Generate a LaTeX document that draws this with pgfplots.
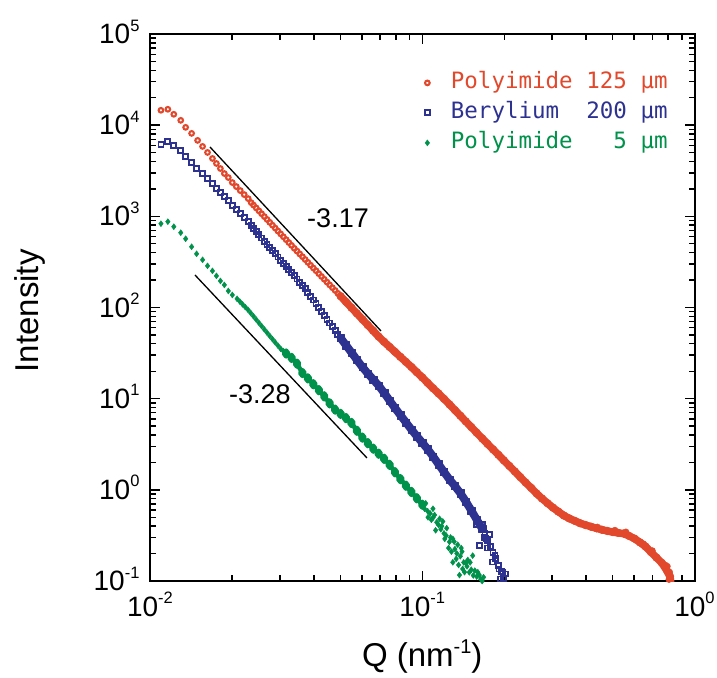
\documentclass[border=0pt]{standalone}
\usepackage{fontspec}
\setmainfont{Liberation Sans}
\newfontfamily\legfont{DejaVu Sans Mono}
\usepackage{pgfplots}
\pgfplotsset{compat=1.18}
\usetikzlibrary{calc}
\definecolor{cred}{RGB}{226,72,44}
\definecolor{cblue}{RGB}{45,50,145}
\definecolor{cgreen}{RGB}{0,145,75}
\newcommand{\sps}[1]{\raisebox{0.45em}[0pt][0pt]{\fontsize{16.5}{16.5}\selectfont #1}}
\begin{document}
\begin{tikzpicture}
\begin{axis}[
  name=ax,
  xmode=log, ymode=log,
  scale only axis, width=544.5pt, height=547pt,
  xmin=0.01, xmax=1, ymin=0.1, ymax=100000,
  xtick={0.01,0.1,1},
  xticklabels={10\sps{-2},10\sps{-1},10\sps{0}},
  ytick={0.1,1,10,100,1000,10000,100000},
  yticklabels={10\sps{-1},10\sps{0},10\sps{1},10\sps{2},10\sps{3},10\sps{4},10\sps{5}},
  tick align=inside,
  major tick length=10pt, minor tick length=6pt,
  every tick/.style={black,line width=1.4pt},
  axis line style={line width=2pt},
  tick label style={font=\fontsize{28}{30}\selectfont},
  xticklabel style={yshift=-12pt},
  yticklabel style={xshift=-7pt},
  xlabel={Q (nm\raisebox{0.42em}{\fontsize{20}{20}\selectfont -1})},
  ylabel={Intensity},
  label style={font=\fontsize{33}{36}\selectfont},
  xlabel style={at={(axis description cs:0.5,-0.157)},anchor=base},
  ylabel style={at={(axis description cs:-0.204,0.494)},anchor=base},
  legend style={draw=none, fill=none, at={(0.951,0.932)}, anchor=north east,
    inner sep=0pt, row sep=7pt, column sep=21pt,
    font=\legfont\fontsize{22.5}{24}\selectfont,
    nodes={inner sep=0pt, text height=17pt, text depth=6pt}},
  legend cell align=left,
]
% ---------- Polyimide 125 um (low Q, individual markers)
\addplot[only marks, cred, mark=o, mark size=2.3pt, mark options={line width=2.1pt}] coordinates {
(0.01097,14560) (0.01163,14940) (0.01223,13160) (0.01297,11300) (0.01352,9465)
(0.01422,8128) (0.01496,6808) (0.01560,5846) (0.01627,5022) (0.01696,4313)
(0.01754,3800) (0.01814,3347) (0.01876,2949) (0.01940,2665) (0.02006,2348)
(0.02075,2121) (0.02146,1917) (0.02219,1732) (0.02295,1564) (0.02353,1414)
(0.02399,1330) (0.02455,1237) (0.02512,1150) (0.02570,1069) (0.02630,994)
(0.02692,924) (0.02754,859) (0.02818,799) (0.02884,743) (0.02951,690)
(0.03020,642) (0.03090,597) (0.03162,555) (0.03236,516) (0.03311,480)
(0.03388,446) (0.03467,416) (0.03548,387) (0.03631,361) (0.03715,336)
(0.03802,313) (0.03890,291) (0.03981,271) (0.04074,253) (0.04169,235)
(0.04266,219) (0.04365,204) (0.04467,190) (0.04571,177) (0.04677,165)
(0.04786,154) (0.04898,143) (0.05012,133)
};
\addlegendentry{\textcolor{cred}{Polyimide 125 μm}}
% ---------- Beryllium 200 um
\addplot[only marks, cblue, mark=square, mark size=2.5pt, mark options={line width=1.8pt}] coordinates {
(0.01097,6151) (0.01163,6637) (0.01223,5997) (0.01297,5284) (0.01352,4538)
(0.01422,3898) (0.01483,3347) (0.01560,2949) (0.01627,2598) (0.01696,2289)
(0.01754,2016) (0.01814,1822) (0.01876,1647) (0.01940,1487) (0.02006,1310)
(0.02075,1184) (0.02146,1070) (0.02219,966.5) (0.02295,873.5) (0.02353,789.0)
(0.02399,737.6) (0.02455,680.2) (0.02512,627.9) (0.02570,579.0) (0.02630,534.2)
(0.02692,492.9) (0.02754,454.7) (0.02818,420.1) (0.02884,387.8) (0.02951,358.4)
(0.03020,330.8) (0.03090,305.6) (0.03162,282.2) (0.03236,260.6) (0.03311,240.6)
(0.03388,222.3) (0.03467,205.3) (0.03548,189.6) (0.03631,175.1) (0.03715,160.1)
(0.03802,146.4) (0.03890,132.9) (0.03981,120.7) (0.04074,109.6) (0.04169,99.5)
(0.04266,90.3) (0.04365,82.0) (0.04467,74.5) (0.04571,67.6) (0.04677,61.4)
(0.04786,55.7) (0.04898,50.8) (0.05012,46.3)
};
\addlegendentry{\textcolor{cblue}{Berylium~~200 μm}}
% ---------- Polyimide 5 um
\addplot[only marks, cgreen, mark=diamond*, mark size=3pt] coordinates {
(0.01097,830.3) (0.01163,873.5) (0.01223,769.4) (0.01297,661.0) (0.01352,567.5)
(0.01422,463.4) (0.01483,388.0) (0.01560,333.3) (0.01627,286.3) (0.01696,252.2)
(0.01754,222.2) (0.01814,195.7) (0.01876,176.9) (0.01940,151.9) (0.02006,137.3)
(0.02089,124.5) (0.02138,116.1) (0.02188,108.3) (0.02239,101.0) (0.02291,94.3)
(0.02344,87.0) (0.02399,80.2) (0.02455,73.8) (0.02512,67.9) (0.02570,62.5)
(0.02630,57.5) (0.02692,52.9) (0.02754,48.7) (0.02818,44.9) (0.02884,41.4)
(0.02951,38.2) (0.03020,35.3) (0.03090,33.2) (0.03162,31.3)
};
\addlegendentry{\textcolor{cgreen}{Polyimide~~~5 μm}}
% ---------- dense parts (overlapping points form a band)
\addplot[forget plot, cred, line width=7.5pt, line join=round, line cap=round,
  mark=*, mark size=3.9pt, mark options={line width=0.4pt}] coordinates {
(0.05012,133.3) (0.05248,115.2) (0.05495,99.5) (0.05754,86.0) (0.06026,74.3)
(0.06310,64.2) (0.06607,55.5) (0.06918,47.9) (0.07244,42.0) (0.07586,37.0)
(0.07943,32.6) (0.08318,28.7) (0.08710,25.3) (0.09120,22.3) (0.09550,19.5)
(0.1000,17.1) (0.1047,14.9) (0.1096,13.0) (0.1148,11.4) (0.1202,9.95)
(0.1259,8.65) (0.1318,7.50) (0.1380,6.50) (0.1445,5.63) (0.1514,4.88)
(0.1585,4.23) (0.1660,3.67) (0.1738,3.19) (0.1820,2.78) (0.1905,2.42)
(0.1995,2.10) (0.2089,1.83) (0.2188,1.59) (0.2291,1.38) (0.2399,1.20)
(0.2512,1.05) (0.2630,0.912) (0.2754,0.803) (0.2884,0.714) (0.3020,0.638)
(0.3162,0.577) (0.3311,0.523) (0.3467,0.486) (0.3631,0.457) (0.3802,0.430)
(0.3981,0.411) (0.4169,0.394) (0.4365,0.379) (0.4571,0.365) (0.4786,0.354)
(0.5012,0.344) (0.5248,0.337) (0.5495,0.331) (0.5754,0.312) (0.6026,0.291)
(0.6310,0.265) (0.6607,0.239) (0.6918,0.208) (0.7244,0.181) (0.7586,0.158)
(0.7943,0.128) (0.8128,0.112) (0.8180,0.098)
};
\addplot[forget plot, only marks, cred, mark=*, mark size=3.2pt] coordinates {
(0.7943,0.145) (0.8100,0.125) (0.8060,0.104) (0.7800,0.150) (0.5100,0.360) (0.5600,0.345)
(0.4400,0.390) (0.3700,0.450) (0.6500,0.255) (0.7000,0.215)
};
\addplot[forget plot, cblue, line width=8pt, line join=round, line cap=round,
  mark=square*, mark size=3.6pt, mark options={line width=0.4pt}] coordinates {
(0.05012,46.3) (0.05248,38.6) (0.05495,32.1) (0.05754,26.7) (0.06026,22.2)
(0.06310,18.9) (0.06607,16.2) (0.06918,13.9) (0.07244,11.6) (0.07586,9.55)
(0.07943,7.89) (0.08318,6.59) (0.08710,5.50) (0.09120,4.59) (0.09550,3.88)
(0.1000,3.29) (0.1047,2.79) (0.1096,2.32) (0.1148,1.91) (0.1202,1.57)
(0.1259,1.30) (0.1318,1.10) (0.1380,0.920) (0.1445,0.747) (0.1514,0.594)
(0.1585,0.472) (0.1660,0.375)
};
\addplot[forget plot, only marks, cblue, mark=square, mark size=2.5pt, mark options={line width=1.8pt}] coordinates {
(0.1660,0.375) (0.1700,0.330) (0.1738,0.279) (0.1780,0.240) (0.1820,0.207)
(0.1860,0.175) (0.1905,0.147) (0.1950,0.127) (0.1995,0.107) (0.2040,0.095)
(0.1620,0.2445) (0.1714,0.290) (0.1811,0.1618) (0.1915,0.1355) (0.2026,0.1194)
(0.1943,0.105) (0.1762,0.321) (0.1660,0.420) (0.1738,0.230) (0.1850,0.190)
(0.1980,0.125) (0.1580,0.420) (0.1690,0.300)
};
\addplot[forget plot, cgreen, line width=4.5pt, line join=round, line cap=round,
  mark=diamond*, mark size=2.9pt] coordinates {
(0.03162,31.3) (0.03311,28.0) (0.03467,24.2) (0.03631,19.1) (0.03802,16.7)
(0.03981,14.4) (0.04169,12.4) (0.04365,10.6) (0.04571,8.88) (0.04786,7.58)
(0.05012,6.81) (0.05248,6.12) (0.05495,5.41) (0.05754,4.45) (0.06026,3.74)
(0.06310,3.25) (0.06607,2.83) (0.06918,2.49) (0.07244,2.19) (0.07586,1.88)
(0.07943,1.56) (0.08318,1.31) (0.08710,1.11) (0.09120,0.948) (0.09550,0.808)
(0.1000,0.687)
};
\addplot[forget plot, only marks, cgreen, mark=diamond*, mark size=3pt] coordinates {
(0.1000,0.687) (0.1047,0.583) (0.1096,0.495) (0.1148,0.413) (0.1202,0.333)
(0.1259,0.269) (0.1318,0.224) (0.1380,0.187) (0.1445,0.157) (0.1514,0.133)
(0.1585,0.112) (0.1660,0.100)
(0.1158,0.481) (0.1225,0.315) (0.1295,0.290) (0.1332,0.1746) (0.1295,0.1605)
(0.1408,0.1355) (0.1532,0.190) (0.1489,0.1245) (0.1370,0.1162) (0.1620,0.1162)
(0.1095,0.620) (0.1050,0.500) (0.1120,0.360) (0.1250,0.230) (0.1400,0.210)
(0.1470,0.170) (0.1180,0.400) (0.1350,0.250)
(0.1020,0.620) (0.1030,0.710) (0.1070,0.550) (0.1080,0.470) (0.1110,0.530)
(0.1130,0.440) (0.1170,0.370) (0.1190,0.450) (0.1210,0.290) (0.1230,0.380)
(0.1270,0.300) (0.1280,0.210) (0.1310,0.270) (0.1340,0.200) (0.1360,0.150)
(0.1390,0.230) (0.1420,0.160) (0.1430,0.125) (0.1460,0.145) (0.1500,0.160)
(0.1540,0.115) (0.1560,0.130) (0.1600,0.125) (0.1640,0.105) (0.1680,0.110)
};
% ---------- slope guides
\addplot[forget plot, black, line width=1.3pt] coordinates {(0.01661,5762) (0.07056,55.26)};
\addplot[forget plot, black, line width=1.3pt] coordinates {(0.01463,227.3) (0.06268,2.236)};
\node[font=\fontsize{27}{30}\selectfont] at (axis cs:0.04905,959) {-3.17};
\node[font=\fontsize{27}{30}\selectfont] at (axis cs:0.02535,11.26) {-3.28};
\end{axis}
\pgfresetboundingbox
\path[use as bounding box] ($(ax.south west)+(-150pt,-96pt)$) rectangle ($(ax.north east)+(22.5pt,34pt)$);
\end{tikzpicture}
\end{document}
